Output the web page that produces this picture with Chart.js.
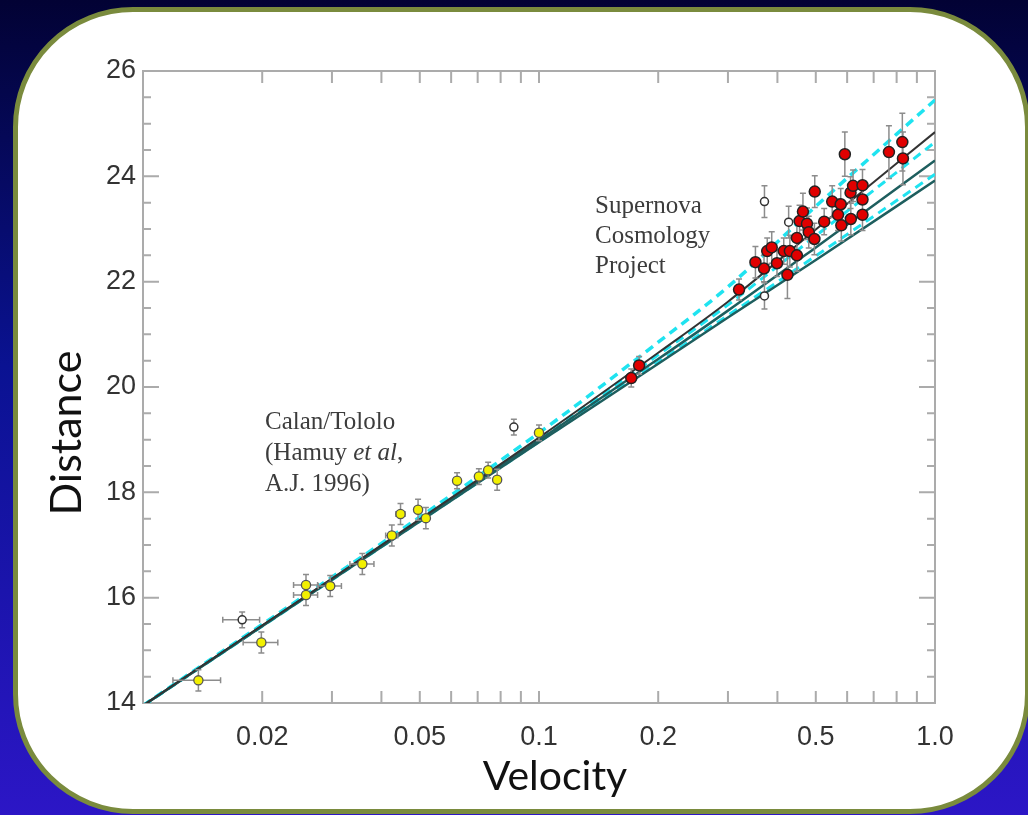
<!DOCTYPE html>
<html>
<head>
<meta charset="utf-8">
<script src="https://cdn.jsdelivr.net/npm/chart.js@4.4.0/dist/chart.umd.min.js"></script>
<style>
    html, body {
        margin: 0;
        padding: 0;
        width: 1028px;
        height: 815px;
        overflow: hidden;
        background: linear-gradient(to bottom, #020234 0%, #0a1292 45%, #2c16c6 100%);
    }
    #panel {
        position: absolute;
        left: 13px;
        top: 7px;
        width: 1007px;
        height: 797px;
        border: 5px solid #7a8b3d;
        border-radius: 120px;
        background: #fff;
    }
    #hubble {
        position: absolute;
        left: 0;
        top: 0;
    }
    .axisTitle {
        position: absolute;
        font-family: Lato, sans-serif;
        font-size: 41px;
        color: #111;
        width: 300px;
        height: 48px;
        line-height: 48px;
        text-align: center;
        white-space: nowrap;
    }
    #yTitle { left: -85px; top: 409px; font-size: 43px; transform: rotate(-90deg); }
    #xTitle { left: 405px; top: 751px; }
    .note {
        position: absolute;
        font-family: "Liberation Serif", serif;
        font-size: 25px;
        color: #3c3c3c;
        white-space: nowrap;
    }
    #scpNote { left: 595px; top: 190px; line-height: 30px; }
    #calanNote { left: 265px; top: 405px; line-height: 31px; }
</style>
</head>
<body>
<div id="panel"></div>
<canvas id="hubble" width="1028" height="815"></canvas>
<div class="axisTitle" id="yTitle">Distance</div>
<div class="axisTitle" id="xTitle">Velocity</div>
<div class="note" id="scpNote">Supernova<br>Cosmology<br>Project</div>
<div class="note" id="calanNote">Calan/Tololo<br>(Hamuy <i>et al</i>,<br>A.J. 1996)</div>
<script>
// Calan/Tololo supernovae (yellow)
const calanV = [0.0138, 0.0199, 0.0258, 0.0258, 0.0297, 0.0358, 0.0425, 0.0447, 0.0495, 0.0518, 0.0621, 0.0705, 0.0744, 0.0784, 0.1000];
const calanD = [14.43, 15.15, 16.24, 16.05, 16.22, 16.64, 17.18, 17.59, 17.67, 17.51, 18.22, 18.30, 18.42, 18.24, 19.13];
const calanVErr = [0.0019, 0.002, 0.0018, 0.0018, 0.002, 0.0025, 0.0015, 0.0012, 0.001, 0.001, 0, 0, 0, 0, 0];
const calanDErr = [0.2, 0.2, 0.2, 0.2, 0.2, 0.2, 0.2, 0.2, 0.2, 0.2, 0.15, 0.15, 0.15, 0.2, 0.15];

// open circles (excluded points)
const openV = [0.0178, 0.0864, 0.371, 0.371, 0.427];
const openD = [15.58, 19.24, 21.73, 23.52, 23.13];
const openVErr = [0.0019, 0, 0, 0, 0];
const openDErr = [0.15, 0.15, 0.25, 0.3, 0.3];

// Supernova Cosmology Project (red)
const scpV = [0.171, 0.179, 0.320, 0.352, 0.370, 0.377, 0.387, 0.399, 0.415, 0.424, 0.430, 0.448, 0.448, 0.455, 0.464, 0.475, 0.480,
    0.496, 0.497, 0.525, 0.550, 0.569, 0.578, 0.580, 0.592, 0.612, 0.613, 0.621, 0.656, 0.656, 0.656, 0.765, 0.827, 0.830];
const scpD = [20.17, 20.41, 21.85, 22.37, 22.25, 22.58, 22.65, 22.35, 22.58, 22.13, 22.58, 22.50, 22.83, 23.15, 23.33, 23.10, 22.94,
    22.81, 23.71, 23.14, 23.52, 23.27, 23.47, 23.07, 24.42, 23.69, 23.19, 23.82, 23.83, 23.56, 23.27, 24.46, 24.65, 24.34];
const scpDErr = [0.17, 0.17, 0.2, 0.3, 0.25, 0.25, 0.3, 0.25, 0.25, 0.45, 0.3, 0.3, 0.35, 0.3, 0.35, 0.3, 0.3,
    0.3, 0.3, 0.25, 0.3, 0.3, 0.3, 0.3, 0.42, 0.3, 0.3, 0.3, 0.3, 0.3, 0.3, 0.5, 0.55, 0.5];

const curveV = [0.01, 0.1, 0.2, 0.3, 0.5, 1.0];
const dashedTop = [13.95, 19.13, 20.85, 21.90, 23.43, 25.45];
const solidTop = [13.95, 19.04, 20.65, 21.62, 22.99, 24.84];
const dashedMid = [13.95, 19.02, 20.61, 21.56, 22.87, 24.65];
const solidMid = [13.95, 18.99, 20.53, 21.45, 22.65, 24.30];
const dashedLow = [13.95, 18.96, 20.47, 21.36, 22.49, 24.04];
const solidLow = [13.95, 18.95, 20.44, 21.32, 22.41, 23.92];

// axis ticks
const xTickValues = [0.02, 0.05, 0.1, 0.2, 0.5, 1.0];
const xTickText = ['0.02', '0.05', '0.1', '0.2', '0.5', '1.0'];
const xMinorTicks = [0.02, 0.03, 0.04, 0.05, 0.06, 0.07, 0.08, 0.09, 0.1, 0.2, 0.3, 0.4, 0.5, 0.6, 0.7, 0.8, 0.9];
const yMinorTicks = [14, 14.5, 15, 15.5, 16, 16.5, 17, 17.5, 18, 18.5, 19, 19.5, 20, 20.5, 21, 21.5, 22, 22.5, 23, 23.5, 24, 24.5, 25, 25.5, 26];

function toPoints(xs, ys) {
    return xs.map((v, i) => ({ x: v, y: ys[i] }));
}

function curve(ys, color, dashed, width, order) {
    return {
        data: toPoints(curveV, ys),
        showLine: true,
        borderColor: color,
        borderWidth: width,
        borderDash: dashed ? [9, 6] : [],
        pointRadius: 0,
        cubicInterpolationMode: 'monotone',
        order: order
    };
}

// frame with inward tick marks on all four sides
const frameTicks = {
    id: 'frameTicks',
    beforeDatasetsDraw(chart) {
        const { ctx, chartArea: a, scales: { x, y } } = chart;
        ctx.save();
        ctx.strokeStyle = '#ababab';
        ctx.lineWidth = 2;
        ctx.strokeRect(a.left, a.top, a.right - a.left, a.bottom - a.top);
        ctx.beginPath();
        yMinorTicks.forEach(v => {
            const py = y.getPixelForValue(v);
            const len = v % 2 === 0 ? 16 : 8;
            ctx.moveTo(a.left, py);
            ctx.lineTo(a.left + len, py);
            ctx.moveTo(a.right, py);
            ctx.lineTo(a.right - len, py);
        });
        xMinorTicks.forEach(v => {
            const px = x.getPixelForValue(v);
            ctx.moveTo(px, a.bottom);
            ctx.lineTo(px, a.bottom - 12);
            ctx.moveTo(px, a.top);
            ctx.lineTo(px, a.top + 12);
        });
        ctx.stroke();
        ctx.restore();
    }
};

// error bars drawn just under each point series
const errorBars = {
    id: 'errorBars',
    beforeDatasetDraw(chart, args) {
        const ds = chart.data.datasets[args.index];
        if (!ds.errD) return;
        const { ctx, scales: { x, y } } = chart;
        ctx.save();
        ctx.strokeStyle = '#8c8c8c';
        ctx.lineWidth = 1.5;
        ctx.beginPath();
        ds.data.forEach((p, i) => {
            const px = x.getPixelForValue(p.x);
            const py = y.getPixelForValue(p.y);
            const dy = ds.errD[i];
            if (dy) {
                const t = y.getPixelForValue(p.y + dy);
                const b = y.getPixelForValue(p.y - dy);
                ctx.moveTo(px, t); ctx.lineTo(px, b);
                ctx.moveTo(px - 3, t); ctx.lineTo(px + 3, t);
                ctx.moveTo(px - 3, b); ctx.lineTo(px + 3, b);
            }
            const dx = ds.errV ? ds.errV[i] : 0;
            if (dx) {
                const l = x.getPixelForValue(p.x - dx);
                const r = x.getPixelForValue(p.x + dx);
                ctx.moveTo(l, py); ctx.lineTo(r, py);
                ctx.moveTo(l, py - 3); ctx.lineTo(l, py + 3);
                ctx.moveTo(r, py - 3); ctx.lineTo(r, py + 3);
            }
        });
        ctx.stroke();
        ctx.restore();
    }
};

const ctx = document.getElementById('hubble').getContext('2d');
new Chart(ctx, {
    type: 'scatter',
    data: {
        datasets: [
            {
                data: toPoints(scpV, scpD),
                errD: scpDErr,
                backgroundColor: '#e00000',
                borderColor: '#222',
                borderWidth: 1.5,
                pointRadius: 5.5,
                order: 0
            },
            {
                data: toPoints(calanV, calanD),
                errD: calanDErr,
                errV: calanVErr,
                backgroundColor: '#f2f000',
                borderColor: '#555',
                borderWidth: 1.3,
                pointRadius: 4.6,
                order: 1
            },
            {
                data: toPoints(openV, openD),
                errD: openDErr,
                errV: openVErr,
                backgroundColor: '#fff',
                borderColor: '#333',
                borderWidth: 1.5,
                pointRadius: 4,
                order: 2
            },
            curve(solidTop, '#333', false, 2, 5),
            curve(solidMid, '#1e5e5e', false, 2.5, 5),
            curve(solidLow, '#1e5e5e', false, 2.5, 5),
            curve(dashedTop, '#1fe3f0', true, 3.5, 6),
            curve(dashedMid, '#1fe3f0', true, 3, 6),
            curve(dashedLow, '#1fe3f0', true, 3, 6)
        ]
    },
    options: {
        responsive: false,
        animation: false,
        devicePixelRatio: 1,
        layout: { padding: { left: 0, top: 71, right: 93, bottom: 0 } },
        plugins: {
            legend: { display: false },
            tooltip: { enabled: false }
        },
        scales: {
            x: {
                type: 'logarithmic',
                min: 0.01,
                max: 1.0,
                grid: { display: false, drawTicks: false },
                border: { display: false },
                afterBuildTicks: (scale) => {
                    scale.ticks = xTickValues.map(v => ({ value: v }));
                },
                afterFit: (scale) => { scale.height = 112; },
                ticks: {
                    autoSkip: false,
                    maxRotation: 0,
                    padding: 18,
                    color: '#333',
                    font: { family: 'Liberation Sans', size: 27 },
                    callback: (val, idx) => xTickText[idx]
                }
            },
            y: {
                min: 14,
                max: 26,
                grid: { display: false, drawTicks: false },
                border: { display: false },
                afterFit: (scale) => { scale.width = 143; },
                ticks: {
                    stepSize: 2,
                    padding: 7,
                    color: '#333',
                    font: { family: 'Liberation Sans', size: 27 }
                }
            }
        }
    },
    plugins: [frameTicks, errorBars]
});
</script>
</body>
</html>
